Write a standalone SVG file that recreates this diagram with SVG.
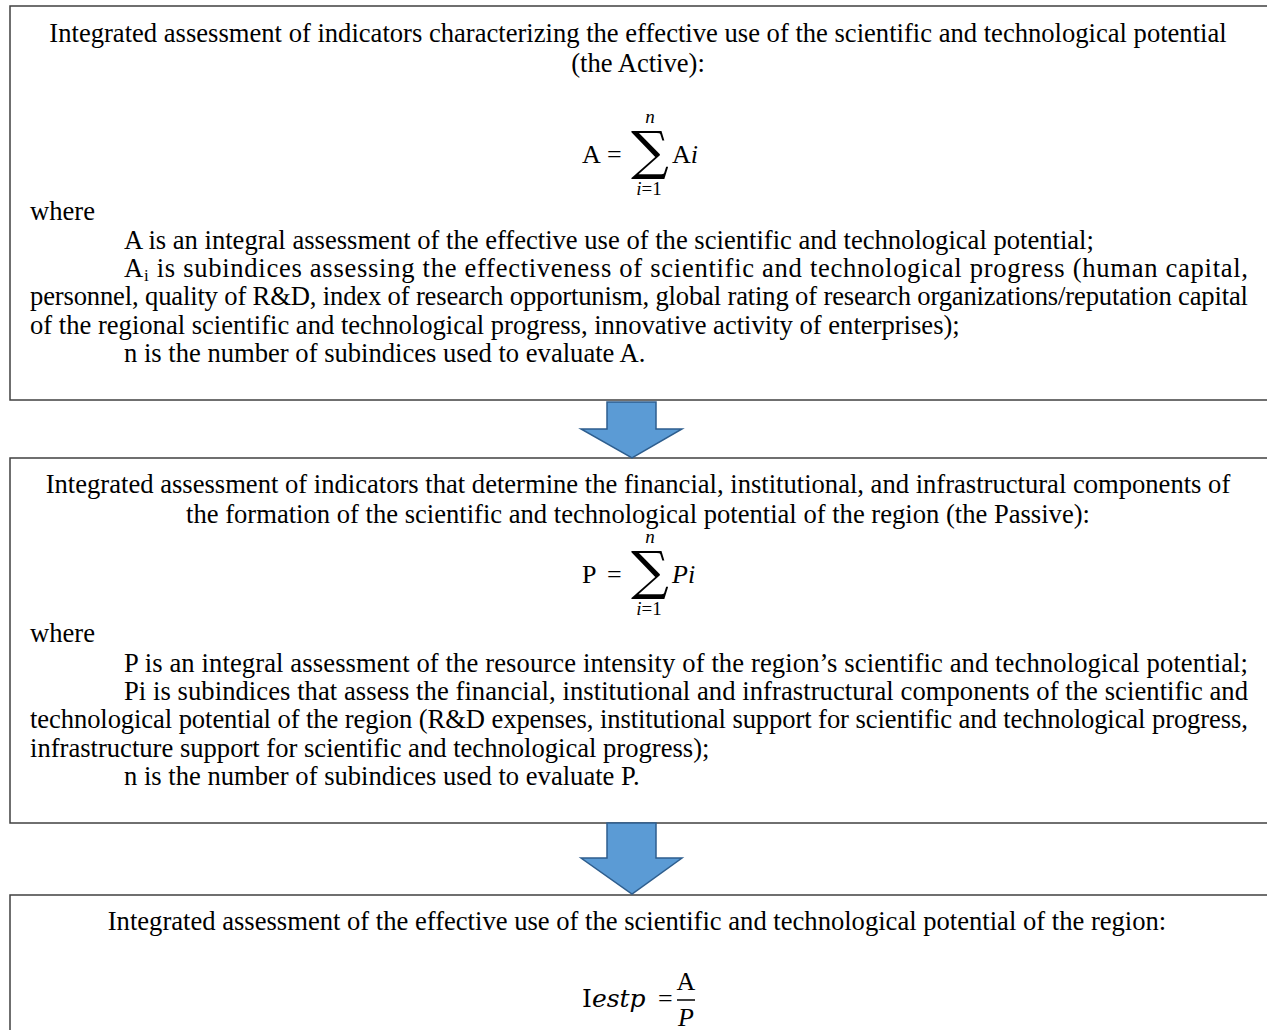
<svg xmlns="http://www.w3.org/2000/svg" width="1267" height="1030" viewBox="0 0 1267 1030">
<style>
.box{fill:#fff;stroke:#404040;stroke-width:1.5}
.t{font-family:"Liberation Serif","Times New Roman",serif;font-size:26.6px;fill:#000}
.c{text-anchor:middle}
.m{font-family:"Liberation Serif","Times New Roman",serif;font-size:26px;fill:#000}
.d{font-family:"DejaVu Serif",serif;font-size:25px;fill:#000}
.mi{font-style:italic}
.s{font-family:"Liberation Serif","Times New Roman",serif;font-size:19px;fill:#000;text-anchor:middle}
.sig{font-family:"DejaVu Serif",serif;font-size:53px;fill:#000;text-anchor:middle}
.arr{fill:#5B9BD5;stroke:#2E5E8E;stroke-width:1.5;stroke-linejoin:miter}
</style>
<rect width="1267" height="1030" fill="#fff"/>
<g id="node-active">
<rect class="box" x="10" y="6" width="1270" height="394"/>
<text class="t c" x="638" y="42">Integrated assessment of indicators characterizing the effective use of the scientific and technological potential</text>
<text class="t c" x="638" y="72">(the Active):</text>
<text class="m" x="582" y="163">A</text>
<text class="m" x="607" y="163">=</text>
<text class="sig" x="650" y="169">∑</text>
<text class="s mi" x="650" y="123">n</text>
<text class="s" x="649" y="195"><tspan font-style="italic">i</tspan>=1</text>
<text class="m" x="672" y="163">A<tspan font-style="italic">i</tspan></text>
<text class="t" x="30" y="220">where</text>
<text class="t" x="124" y="249">A is an integral assessment of the effective use of the scientific and technological potential;</text>
<text class="t" x="124" y="277" textLength="1124" lengthAdjust="spacing">A<tspan font-size="17" dy="4">i</tspan><tspan dy="-4"> is subindices assessing the effectiveness of scientific and technological progress (human capital,</tspan></text>
<text class="t" x="30" y="305" textLength="1218" lengthAdjust="spacing">personnel, quality of R&amp;D, index of research opportunism, global rating of research organizations/reputation capital</text>
<text class="t" x="30" y="334">of the regional scientific and technological progress, innovative activity of enterprises);</text>
<text class="t" x="124" y="362">n is the number of subindices used to evaluate A.</text>
</g>
<g id="node-passive">
<rect class="box" x="10" y="458" width="1270" height="365"/>
<text class="t c" x="638" y="493">Integrated assessment of indicators that determine the financial, institutional, and infrastructural components of</text>
<text class="t c" x="638" y="523">the formation of the scientific and technological potential of the region (the Passive):</text>
<text class="m" x="582" y="583">P</text>
<text class="m" x="607" y="583">=</text>
<text class="sig" x="650" y="589">∑</text>
<text class="s mi" x="650" y="543">n</text>
<text class="s" x="649" y="615"><tspan font-style="italic">i</tspan>=1</text>
<text class="m mi" x="672" y="583">Pi</text>
<text class="t" x="30" y="642">where</text>
<text class="t" x="124" y="672" textLength="1124" lengthAdjust="spacing">P is an integral assessment of the resource intensity of the region’s scientific and technological potential;</text>
<text class="t" x="124" y="700" textLength="1124" lengthAdjust="spacing">Pi is subindices that assess the financial, institutional and infrastructural components of the scientific and</text>
<text class="t" x="30" y="728" textLength="1218" lengthAdjust="spacing">technological potential of the region (R&amp;D expenses, institutional support for scientific and technological progress,</text>
<text class="t" x="30" y="757">infrastructure support for scientific and technological progress);</text>
<text class="t" x="124" y="785">n is the number of subindices used to evaluate P.</text>
</g>
<g id="node-result">
<rect class="box" x="10" y="895" width="1270" height="200"/>
<text class="t c" x="637" y="930">Integrated assessment of the effective use of the scientific and technological potential of the region:</text>
<text class="d" x="582" y="1007">I<tspan font-style="italic">estp</tspan></text>
<text class="m" x="658" y="1007">=</text>
<text class="m c" x="686" y="990">A</text>
<line x1="677" y1="1000" x2="695" y2="1000" stroke="#000" stroke-width="1.5"/>
<text class="m mi c" x="686" y="1026">P</text>
</g>
<g id="connectors">
<polygon class="arr" points="607,402 656,402 656,429 682,429 632,458 581,429 607,429"/>
<polygon class="arr" points="607,823 656,823 656,858 682,858 632,894 581,858 607,858"/>
</g>
</svg>
